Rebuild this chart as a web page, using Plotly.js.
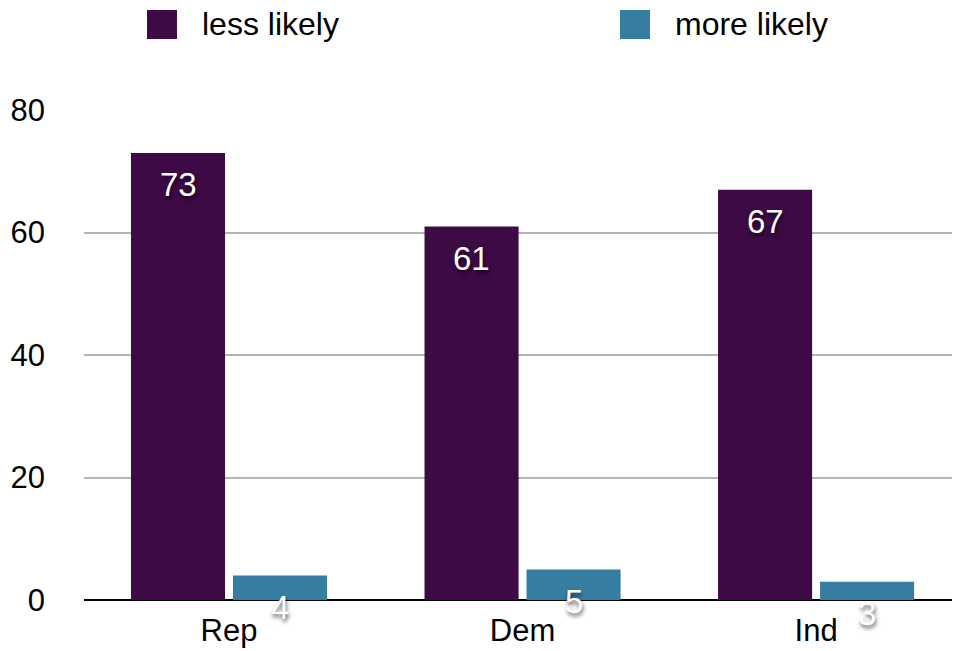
<!DOCTYPE html>
<html>
<head>
<meta charset="utf-8">
<script src="https://cdn.plot.ly/plotly-3.0.1.min.js"></script>
<style>
  html, body { margin: 0; padding: 0; background: #fff; }
  #chart { width: 954px; height: 651px; }
</style>
</head>
<body>
<div id="chart"></div>
<script>
// Party groups and the share answering each way
const categories = ['Rep', 'Dem', 'Ind'];
const seriesNames = ['less likely', 'more likely'];
const lessLikely = [73, 61, 67];
const moreLikely = [4, 5, 3];
const yTicks = [0, 20, 40, 60, 80];

const colors = ['#3d0a45', '#367ea1'];
const FONT = 'Liberation Sans, Arial, Helvetica, sans-serif';
const series = [lessLikely, moreLikely];

const traces = series.map((vals, i) => ({
  type: 'bar',
  name: seriesNames[i],
  x: categories,
  y: vals,
  marker: { color: colors[i] },
  showlegend: false,
  hoverinfo: 'x+y+name'
}));

// Value labels sit just under the top of each bar, with a soft shadow
const annotations = [];
series.forEach((vals, i) => {
  vals.forEach((v, j) => {
    annotations.push({
      x: categories[j], y: v, xref: 'x', yref: 'y',
      xshift: i === 0 ? -51 : 51, yshift: -32,
      yanchor: 'middle', xanchor: 'center',
      text: String(v), showarrow: false,
      font: { family: FONT, size: 33, color: '#ffffff',
              shadow: '1px 3px 4px rgba(0,0,0,0.65)' }
    });
  });
});

// Legend drawn across the top with large swatches
const shapes = [];
seriesNames.forEach((name, i) => {
  const x0 = 147 + (i === 0 ? 0 : 473);
  shapes.push({
    type: 'rect', xref: 'paper', yref: 'paper',
    x0: (x0 - 84) / 868, x1: (x0 + 30 - 84) / 868,
    y0: 1 + (110 - 39) / 490, y1: 1 + (110 - 10) / 490,
    fillcolor: colors[i], line: { width: 0 }
  });
  annotations.push({
    xref: 'paper', yref: 'paper',
    x: (x0 + 53 - 84) / 868, y: 1 + (110 - 24) / 490,
    xanchor: 'left', yanchor: 'middle',
    text: name, showarrow: false,
    font: { family: FONT, size: 32, color: '#000' }
  });
});

const layout = {
  width: 954, height: 651,
  margin: { l: 84, r: 2, t: 110, b: 51 },
  paper_bgcolor: '#fff', plot_bgcolor: '#fff',
  font: { family: FONT, size: 31, color: '#000' },
  barmode: 'group',
  bargap: 0.305,
  bargroupgap: 0.078,
  showlegend: false,
  xaxis: {
    type: 'category',
    range: [-0.494, 2.463],
    showgrid: false, zeroline: false,
    showline: false, ticks: '',
    ticklabelstandoff: 9,
    tickfont: { family: FONT, size: 31, color: '#000' }
  },
  yaxis: {
    range: [0, 80],
    tickvals: yTicks,
    ticktext: yTicks.map(String),
    showgrid: true, gridcolor: '#b4b4b4', gridwidth: 2,
    zeroline: true, zerolinecolor: '#000', zerolinewidth: 2,
    showline: false, ticks: '',
    ticklabelstandoff: 38,
    tickfont: { family: FONT, size: 31, color: '#000' }
  },
  shapes: shapes,
  annotations: annotations
};

Plotly.newPlot('chart', traces, layout, { displayModeBar: false, staticPlot: true });
</script>
</body>
</html>
